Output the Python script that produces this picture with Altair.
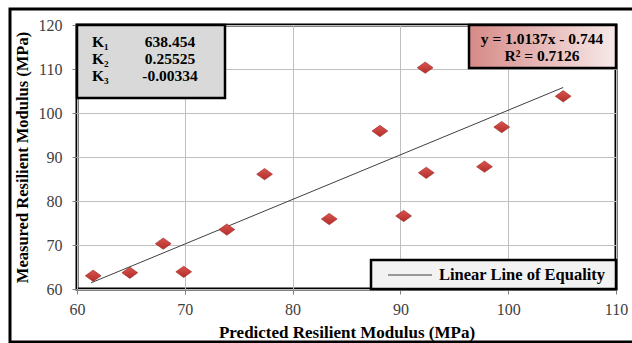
import altair as alt
import pandas as pd

# Data
predicted = [61.5, 64.9, 68.0, 69.9, 73.9, 77.4, 83.4, 88.1, 90.3, 92.3, 92.4, 97.8, 99.4, 105.1]
measured = [63.0, 63.7, 70.3, 63.9, 73.5, 86.1, 75.9, 95.9, 76.6, 110.3, 86.4, 87.8, 96.8, 103.8]

trend_x = [61.3, 105.1]
trend_y = [61.4, 105.8]

k_labels = ["K₁", "K₂", "K₃"]
k_values = ["638.454", "0.25525", "-0.00334"]

eq_lines = ["y = 1.0137x - 0.744", "R² = 0.7126"]
legend_label = "Linear Line of Equality"

FONT = "Liberation Serif"
W, H = 539, 264

pts = pd.DataFrame({"pred": predicted, "meas": measured})
trend = pd.DataFrame({"pred": trend_x, "meas": trend_y})
one = pd.DataFrame({"a": [0]})

xs = alt.Scale(domain=[60, 110], nice=False, zero=False)
ys = alt.Scale(domain=[60, 120], nice=False, zero=False)

x_axis = alt.Axis(
    title="Predicted Resilient Modulus (MPa)",
    values=[60, 70, 80, 90, 100, 110], labelFlush=False,
    titleX=W / 2, titleY=43, titleBaseline="middle", titleFontSize=17,
)
y_axis = alt.Axis(
    title="Measured Resilient Modulus (MPa)",
    values=[60, 70, 80, 90, 100, 110, 120], labelFlush=False,
    titleX=-55, titleY=H / 2, titleBaseline="middle", titleAngle=270, titleAlign="center",
    titleFontSize=16.5,
)

outer = alt.Chart(one).mark_rect(filled=False, stroke="black", strokeWidth=3, clip=False).encode(
    x=alt.value(-67), x2=alt.value(570), y=alt.value(-16), y2=alt.value(317)
)

line = alt.Chart(trend).mark_line(color="#404040", strokeWidth=1).encode(
    x=alt.X("pred:Q", scale=xs, axis=x_axis),
    y=alt.Y("meas:Q", scale=ys, axis=y_axis),
)

points = alt.Chart(pts).mark_point(
    shape="M-1,0L0,-0.72L1,0L0,0.72Z", filled=True, size=250, opacity=1,
    fill=alt.Gradient(gradient="linear", x1=0, x2=0, y1=0, y2=1,
                      stops=[alt.GradientStop(color="#d9534f", offset=0),
                             alt.GradientStop(color="#b32d29", offset=1)]),
    stroke="#9c2723", strokeWidth=0.6,
).encode(x=alt.X("pred:Q", scale=xs), y=alt.Y("meas:Q", scale=ys))

kbox = alt.Chart(one).mark_rect(fill="#d9d9d9", stroke="black", strokeWidth=2.5).encode(
    x=alt.value(0), x2=alt.value(148), y=alt.value(0), y2=alt.value(73)
)
k_df = pd.DataFrame({"lab": k_labels, "val": k_values, "ypix": [17, 34, 51]})
k_lab = alt.Chart(k_df).mark_text(font=FONT, fontSize=15.5, fontWeight="bold", align="left",
                                  baseline="middle", color="black").encode(
    x=alt.value(15), y=alt.Y("ypix:Q", scale=None), text="lab:N"
)
k_val = alt.Chart(k_df).mark_text(font=FONT, fontSize=15.5, fontWeight="bold", align="center",
                                  baseline="middle", color="black").encode(
    x=alt.value(93), y=alt.Y("ypix:Q", scale=None), text="val:N"
)

eqbox = alt.Chart(one).mark_rect(
    fill=alt.Gradient(gradient="linear", x1=0, x2=1, y1=0, y2=0,
                      stops=[alt.GradientStop(color="#d68a87", offset=0),
                             alt.GradientStop(color="#f7e9e9", offset=1)]),
    stroke="black", strokeWidth=2.5,
).encode(x=alt.value(392), x2=alt.value(539), y=alt.value(0), y2=alt.value(43))
eq_df = pd.DataFrame({"t": eq_lines, "ypix": [14, 31]})
eq_txt = alt.Chart(eq_df).mark_text(font=FONT, fontSize=15.5, fontWeight="bold", align="center",
                                    baseline="middle", color="black").encode(
    x=alt.value(465), y=alt.Y("ypix:Q", scale=None), text="t:N"
)

legbox = alt.Chart(one).mark_rect(fill="#f2f2f2", stroke="black", strokeWidth=2.5).encode(
    x=alt.value(294), x2=alt.value(539), y=alt.value(235), y2=alt.value(264)
)
legline = alt.Chart(one).mark_rule(color="#404040", strokeWidth=1).encode(
    x=alt.value(311), x2=alt.value(355), y=alt.value(250)
)
legtxt = alt.Chart(pd.DataFrame({"t": [legend_label]})).mark_text(
    font=FONT, fontSize=16.5, fontWeight="bold", align="left", baseline="middle", color="black"
).encode(x=alt.value(362), y=alt.value(250), text="t:N")

chart = alt.layer(
    outer, line, points, kbox, k_lab, k_val, eqbox, eq_txt, legbox, legline, legtxt
).properties(
    width=W, height=H,
    padding={"left": 77, "top": 25, "right": 16, "bottom": 54},
    autosize=alt.AutoSizeParams(type="none"),
    background="white",
).configure_view(
    stroke="black", strokeWidth=3
).configure_axis(
    labelFont=FONT, labelFontSize=16, labelColor="#404040",
    titleFont=FONT, titleFontWeight="bold", titleColor="black",
    gridColor="#bfbfbf", gridWidth=1, domain=False,
    tickColor="#808080", tickSize=5,
).configure_axisX(labelPadding=7).configure_axisY(labelPadding=10)

chart.save("out.html", embed_options={"renderer": "svg", "actions": False})
